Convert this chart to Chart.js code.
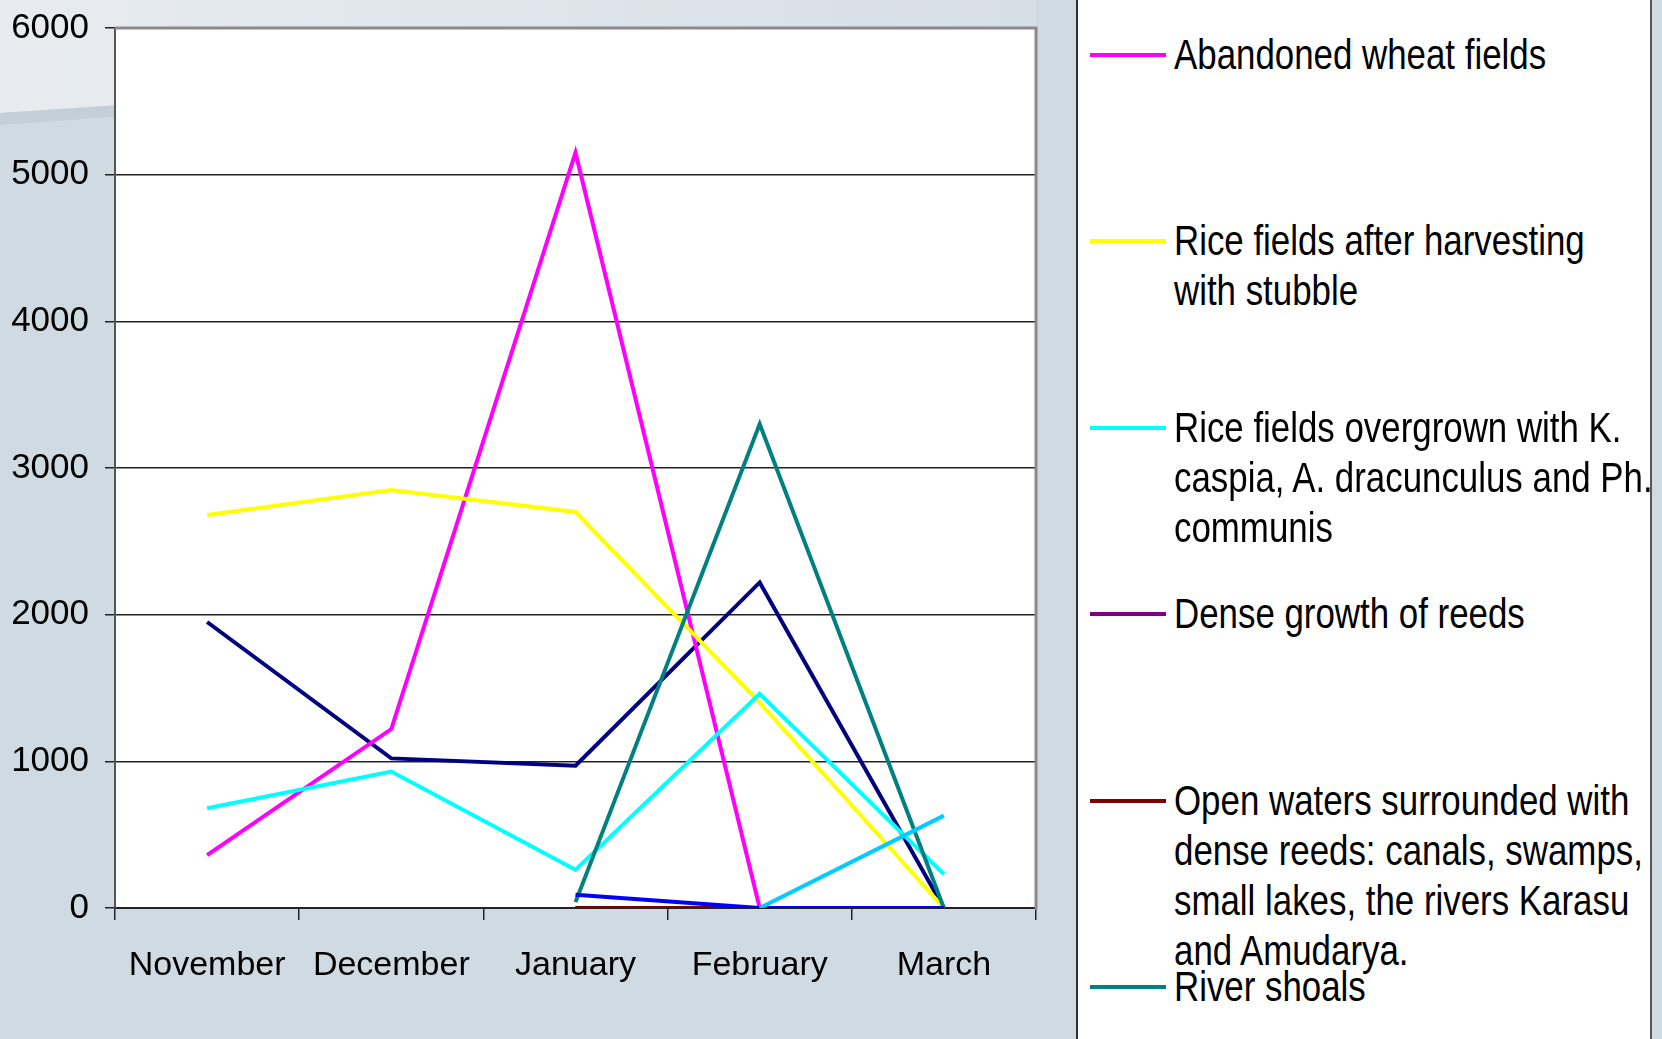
<!DOCTYPE html>
<html>
<head>
<meta charset="utf-8">
<script src="https://cdn.jsdelivr.net/npm/chart.js@4.4.0/dist/chart.umd.min.js"></script>
<style>
    html, body { margin: 0; padding: 0; }
    body {
        width: 1662px; height: 1039px; overflow: hidden; position: relative;
        background: #d0dae3;
        font-family: "Liberation Sans", Arial, sans-serif;
    }
    #wedge {
        position: absolute; left: 0; top: 0; width: 1036px; height: 130px;
        background: linear-gradient(to right, #e8ecf0, #d6dee6);
        clip-path: polygon(0 0, 1036px 0, 1036px 44px, 0 113px);
    }
    #band {
        position: absolute; left: 0; top: 0; width: 1036px; height: 130px;
        background: #c5cfd8;
        clip-path: polygon(0 113px, 1036px 44px, 1036px 51px, 0 125px);
    }
    #chartBox { position: absolute; left: 0; top: 0; width: 1662px; height: 1039px; }
    #legend {
        position: absolute; left: 1076px; top: -2px; width: 576px; height: 1045px;
        background: #fff; border-left: 2px solid #333; border-right: 2px solid #555;
        box-sizing: border-box;
    }
    .swatch { position: absolute; left: 12px; width: 76px; height: 4px; }
    .text {
        position: absolute; left: 96px; font-size: 42px; line-height: 50px;
        white-space: nowrap; color: #000;
        transform: scaleX(0.83); transform-origin: 0 0;
    }
</style>
</head>
<body>
<div id="wedge"></div>
<div id="band"></div>
<div id="chartBox"><canvas id="lineChart"></canvas></div>
<div id="legend"></div>
<script>
// Months on the x axis
const months = ['November', 'December', 'January', 'February', 'March'];

// Series values (null = no point)
const firstSeries = [1950, 1020, 970, 2220, 0];      // navy, its legend entry is cut off
const wheatFields = [360, 1220, 5150, 0, 0];
const riceStubble = [2680, 2850, 2700, 1400, 0];
const riceOvergrown = [680, 930, 260, 1460, 230];
const denseReeds = [null, null, 0, 0, 0];
const openWaters = [null, null, 0, 0, 0];
const riverShoals = [null, null, 40, 3300, 0];
const eighthSeries = [null, null, 90, 0, 0];        // blue, not in the legend
const ninthSeries = [null, null, null, 0, 630];     // sky blue, not in the legend

// Y axis ticks
const yTicks = [0, 1000, 2000, 3000, 4000, 5000, 6000];

// Series in drawing order (later ones are drawn on top, as in Excel)
const series = [
    { label: 'Series 1', lines: null, data: firstSeries, color: '#000080' },
    { label: 'Abandoned wheat fields', lines: ['Abandoned wheat fields'], data: wheatFields, color: '#FF00FF' },
    { label: 'Rice fields after harvesting with stubble', lines: ['Rice fields after harvesting', 'with stubble'], data: riceStubble, color: '#FFFF00' },
    { label: 'Rice fields overgrown with K. caspia, A. dracunculus and Ph. communis', lines: ['Rice fields overgrown with K.', 'caspia, A. dracunculus and Ph.', 'communis'], data: riceOvergrown, color: '#00FFFF' },
    { label: 'Dense growth of reeds', lines: ['Dense growth of reeds'], data: denseReeds, color: '#800080' },
    { label: 'Open waters surrounded with dense reeds: canals, swamps, small lakes, the rivers Karasu and Amudarya.', lines: ['Open waters surrounded with', 'dense reeds: canals, swamps,', 'small lakes, the rivers Karasu', 'and Amudarya.'], data: openWaters, color: '#800000' },
    { label: 'River shoals', lines: ['River shoals'], data: riverShoals, color: '#008080' },
    { label: 'Series 8', lines: null, data: eighthSeries, color: '#0000FF' },
    { label: 'Series 9', lines: null, data: ninthSeries, color: '#00CCFF' }
];

document.addEventListener('DOMContentLoaded', () => {
    Chart.defaults.font.family = '"Liberation Sans", Arial, sans-serif';
    Chart.defaults.color = '#000';

    // White plot area with the grey frame on top and right
    const plotFrame = {
        id: 'plotFrame',
        beforeDraw(chart) {
            const { ctx, chartArea: a } = chart;
            ctx.save();
            ctx.fillStyle = '#fff';
            ctx.fillRect(a.left, a.top, a.right - a.left, a.bottom - a.top);
            ctx.restore();
        },
        afterDraw(chart) {
            const { ctx, chartArea: a } = chart;
            ctx.save();
            ctx.strokeStyle = '#8a8a8a';
            ctx.lineWidth = 3;
            ctx.beginPath();
            ctx.moveTo(a.left, a.top);
            ctx.lineTo(a.right, a.top);
            ctx.lineTo(a.right, a.bottom + 2);
            ctx.stroke();
            ctx.restore();
        }
    };

    const datasets = series.map((s, i) => ({
        label: s.label,
        data: s.data,
        borderColor: s.color,
        backgroundColor: s.color,
        borderWidth: 4,
        pointRadius: 0,
        tension: 0,
        spanGaps: false,
        order: series.length - i
    }));

    const ctx = document.getElementById('lineChart').getContext('2d');
    new Chart(ctx, {
        type: 'line',
        data: { labels: months, datasets: datasets },
        options: {
            responsive: true,
            maintainAspectRatio: false,
            animation: false,
            layout: { padding: { left: 0, top: 28, right: 626, bottom: 0 } },
            plugins: {
                legend: { display: false },
                tooltip: { enabled: false }
            },
            scales: {
                x: {
                    offset: true,
                    grid: { display: true, offset: true, drawOnChartArea: false, tickLength: 12, color: '#222', lineWidth: 1.5 },
                    border: { color: '#222', width: 2 },
                    ticks: { font: { size: 34 }, padding: 25, color: '#000', maxRotation: 0, autoSkip: false },
                    afterFit: (scale) => {
                        scale.height = 131;
                        scale.paddingLeft = 0;
                        scale.paddingRight = 0;
                    }
                },
                y: {
                    min: yTicks[0],
                    max: yTicks[yTicks.length - 1],
                    afterBuildTicks: (scale) => { scale.ticks = yTicks.map(v => ({ value: v })); },
                    grid: { color: '#222', lineWidth: 1.5, tickLength: 10 },
                    border: { color: '#555', width: 2 },
                    ticks: { font: { size: 35 }, padding: 16, color: '#000', callback: (v) => String(v) },
                    afterFit: (scale) => {
                        scale.width = 115;
                        scale.paddingTop = 0;
                        scale.paddingBottom = 0;
                    }
                }
            }
        },
        plugins: [plotFrame]
    });

    // Legend panel: only the entries that are visible in the picture
    const legend = document.getElementById('legend');
    series.filter(s => s.lines).forEach((s, i) => {
        const y = 57 + 186.4 * i;
        const sw = document.createElement('div');
        sw.className = 'swatch';
        sw.style.top = (y - 2) + 'px';
        sw.style.background = s.color;
        legend.appendChild(sw);
        const tx = document.createElement('div');
        tx.className = 'text';
        tx.style.top = (y - 25) + 'px';
        tx.innerHTML = s.lines.join('<br>');
        legend.appendChild(tx);
    });
});
</script>
</body>
</html>
